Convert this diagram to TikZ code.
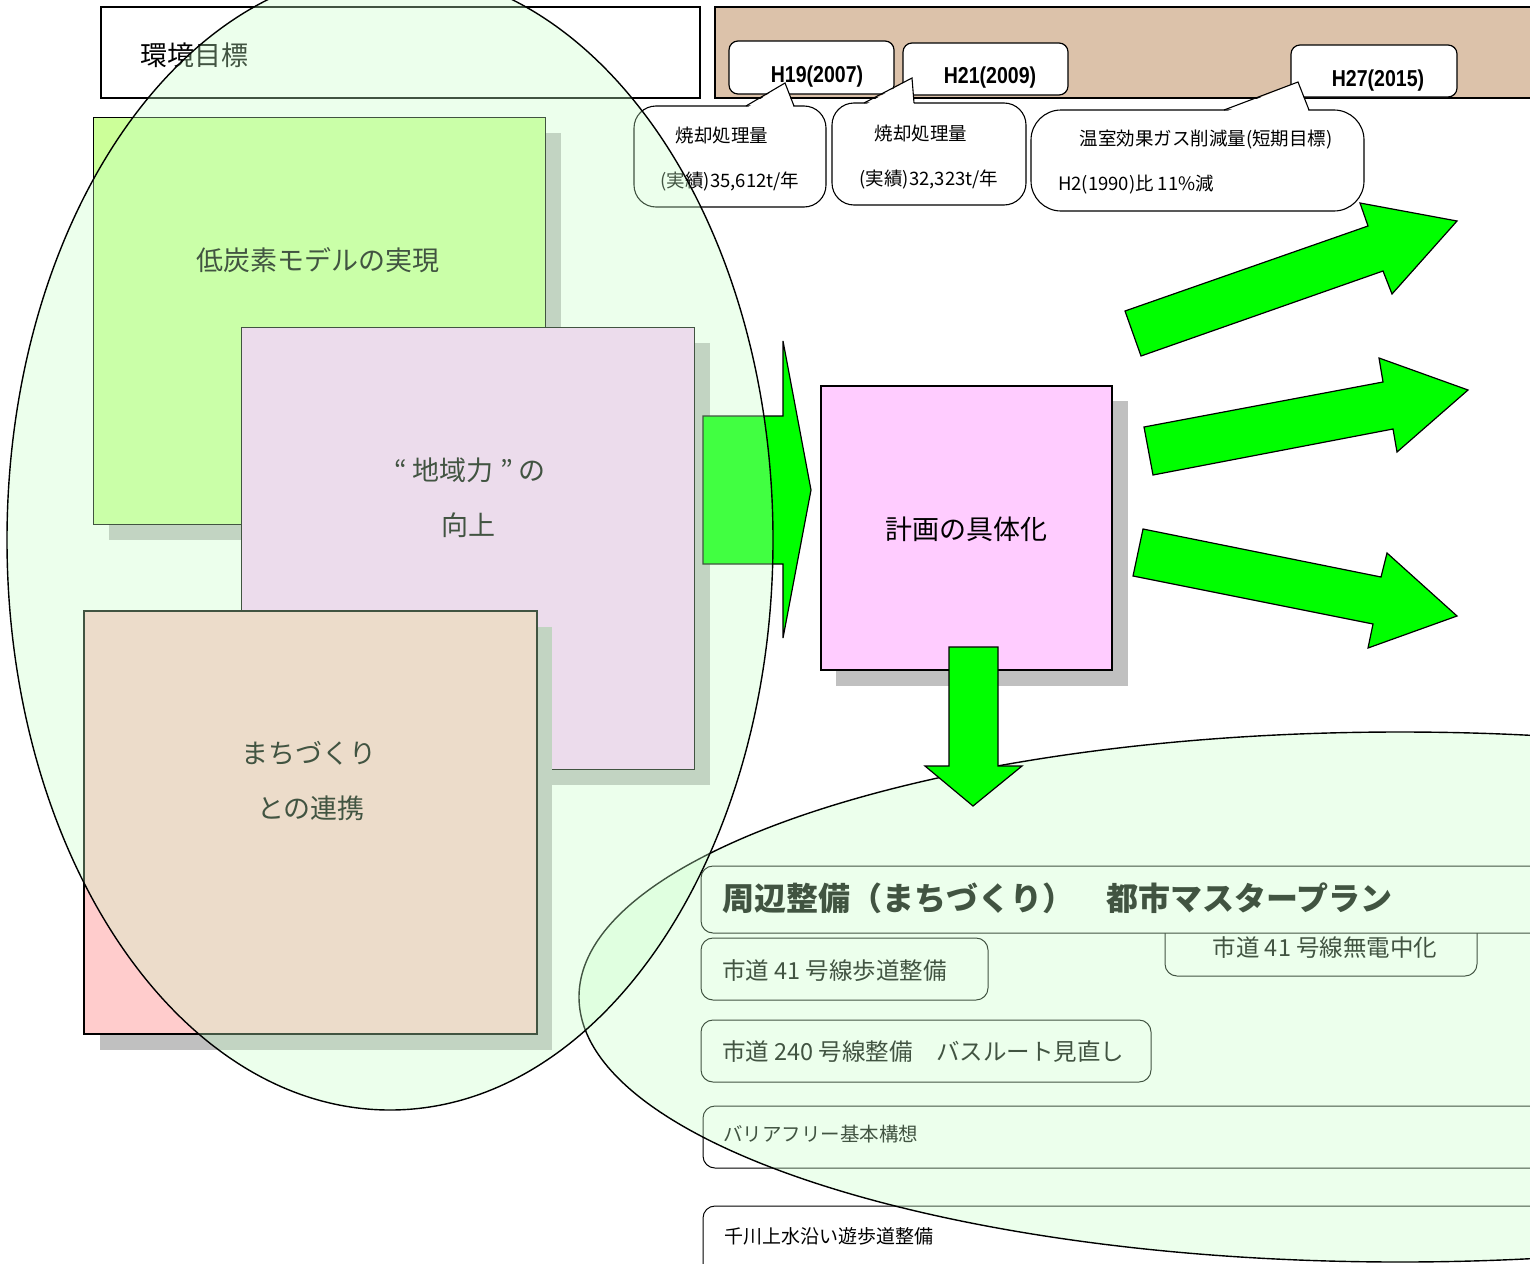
\documentclass[tikz,border=0pt]{standalone}
\usepackage{fontspec}
\setmainfont{Noto Sans CJK JP}
\newfontfamily\tabfont{Liberation Sans}[FakeStretch=0.85]
\newcommand{\myfs}[1]{\fontsize{#1}{#1}\selectfont}
\definecolor{lgreen}{RGB}{204,255,153}
\definecolor{lpink}{RGB}{255,204,255}
\definecolor{spink}{RGB}{255,204,204}
\definecolor{shadowgray}{RGB}{192,192,192}
\definecolor{agreen}{RGB}{0,255,0}
\definecolor{band}{RGB}{220,194,170}
\definecolor{ovl}{RGB}{200,255,200}
\tikzset{
  every node/.style={inner sep=0pt, outer sep=0pt},
  frame/.style={draw=black, line width=1.2pt},
  thinframe/.style={draw=black, line width=1pt},
  shadowbox/.style={fill=shadowgray, draw=none},
  tabbox/.style={frame, fill=white, rounded corners=9pt},
  tabtxt/.style={font={\tabfont\bfseries\myfs{23}}},
  callbody/.style={draw=black, line width=1.1pt, fill=white},
  calltxt/.style={font={\myfs{18.5}}},
  bigtxt/.style={font={\myfs{27}}},
  listbox/.style={draw=black, line width=1pt, fill=white, rounded corners=12pt},
  listtxt/.style={anchor=west, font={\myfs{23.5}}},
  garrow/.style={fill=agreen, draw=black, line width=1.2pt, line join=miter},
  ovlell/.style={fill=ovl, fill opacity=0.33, draw=black, line width=1.4pt}
}
\begin{document}
\begin{tikzpicture}[x=1pt,y=-1pt]
\useasboundingbox (0,0) rectangle (1530,1263);
\clip (0,0) rectangle (1530,1263);
\fill[white] (0,0) rectangle (1530,1263);

% ---- title and header band
\draw[frame, fill=white] (101,7) rectangle (700,98);
\node[anchor=west, bigtxt] (title) at (140,55) {環境目標};
\draw[frame, fill=band] (715,7) rectangle (1560,98);

% ---- tabs
\draw[tabbox] (729,41) rectangle (894,94);
\node[tabtxt] (h19) at (817,77) {H19(2007)};
\draw[tabbox] (903,43) rectangle (1068,95);
\node[tabtxt] (h21) at (990,78) {H21(2009)};
\draw[tabbox] (1291,45) rectangle (1457,97);
\node[tabtxt] (h27) at (1378,81) {H27(2015)};

% ---- callouts
\draw[callbody, rounded corners=22pt] (634,106) rectangle (826,207);
\fill[white] (746,108.5) -- (785,83) -- (794,108.5) -- cycle;
\draw[line width=1.1pt] (746,106) -- (785,83) -- (794,106);
\node[calltxt] (c1a) at (722,135) {焼却処理量};
\node[calltxt] (c1b) at (730,182) {(実績)35,612t/年};

\draw[callbody, rounded corners=22pt] (832,103) rectangle (1026,205);
\fill[white] (864,105.5) -- (912,78) -- (914,105.5) -- cycle;
\draw[line width=1.1pt] (864,103) -- (912,78) -- (914,103);
\node[calltxt] (c2a) at (921,133) {焼却処理量};
\node[calltxt] (c2b) at (929,180) {(実績)32,323t/年};

\draw[callbody, rounded corners=30pt] (1031,110) rectangle (1364,211);
\fill[white] (1224,112.5) -- (1298,82) -- (1309,112.5) -- cycle;
\draw[line width=1.1pt] (1224,110) -- (1298,82) -- (1309,110);
\node[calltxt] (c3a) at (1206,140) {温室効果ガス削減量(短期目標)};
\node[calltxt, anchor=west] (c3b) at (1058,185) {H2(1990)比 11\%減};

% ---- left stacked boxes
\fill[shadowbox] (109,133) rectangle (561,540);
\draw[thinframe, fill=lgreen] (93,117) rectangle (545,524);
\node[bigtxt] (lowc) at (318,260) {低炭素モデルの実現};

\fill[shadowbox] (257,343) rectangle (710,785);
\draw[thinframe, fill=lpink] (241,327) rectangle (694,769);
\node[bigtxt] (chiiki1) at (470,470) {“ 地域力 ” の};
\node[bigtxt] (chiiki2) at (468,525) {向上};

\fill[shadowbox] (100,627) rectangle (552,1050);
\draw[frame, fill=spink] (84,611) rectangle (537,1034);
\node[bigtxt] (machi1) at (309,753) {まちづくり};
\node[bigtxt] (machi2) at (311,808) {との連携};

% ---- arrow into plan box
\draw[garrow] (703,416) -- (783,416) -- (783,341) -- (811,490) -- (783,638) -- (783,564) -- (703,564) -- cycle;

% ---- plan box
\fill[shadowbox] (836,401) rectangle (1128,686);
\draw[frame, fill=lpink] (821,386) rectangle (1112,670);
\node[bigtxt] (plan) at (966,529) {計画の具体化};

% ---- three diagonal arrows
\draw[garrow] (1125,311) -- (1368,226) -- (1360,203) -- (1457,221) -- (1392,294) -- (1383,271) -- (1141,356) -- cycle;
\draw[garrow] (1144,427) -- (1383,382) -- (1379,358) -- (1468,390) -- (1397,452) -- (1393,429) -- (1153,475) -- cycle;
\draw[garrow] (1143,529) -- (1381,577) -- (1387,553) -- (1457,616) -- (1368,648) -- (1373,624) -- (1133,576) -- cycle;

% ---- list boxes
\draw[listbox] (1165,900) rectangle (1477,976);
\node[anchor=center, font={\myfs{23.5}}] (mudenchu) at (1325,948) {市道 41 号線無電中化};
\draw[listbox] (701,866) rectangle (1560,933);
\node[anchor=west, font={\myfs{32}\bfseries}] (shuhen) at (722,898) {周辺整備（まちづくり）　都市マスタープラン};
\draw[listbox] (701,938) rectangle (988,1000);
\node[listtxt] (hodo) at (722,971) {市道 41 号線歩道整備};
\draw[listbox] (701,1020) rectangle (1151,1082);
\node[listtxt] (bus) at (722,1052) {市道 240 号線整備　バスルート見直し};
\draw[listbox] (703,1106) rectangle (1560,1168);
\node[listtxt, font={\myfs{19.5}}] (barrier) at (723,1134) {バリアフリー基本構想};
\draw[listbox] (703,1206) rectangle (1560,1300);
\node[listtxt, font={\myfs{19}}] (senkawa) at (724,1236) {千川上水沿い遊歩道整備};

% ---- translucent ellipses
\draw[ovlell] (1400,997) ellipse [x radius=821pt, y radius=265pt];
\draw[ovlell] (390,540) ellipse [x radius=383pt, y radius=570pt];

% ---- downward arrow
\draw[garrow] (949,647) -- (998,647) -- (998,766) -- (1022,766) -- (973,806) -- (925,766) -- (949,766) -- cycle;
\end{tikzpicture}
\end{document}
